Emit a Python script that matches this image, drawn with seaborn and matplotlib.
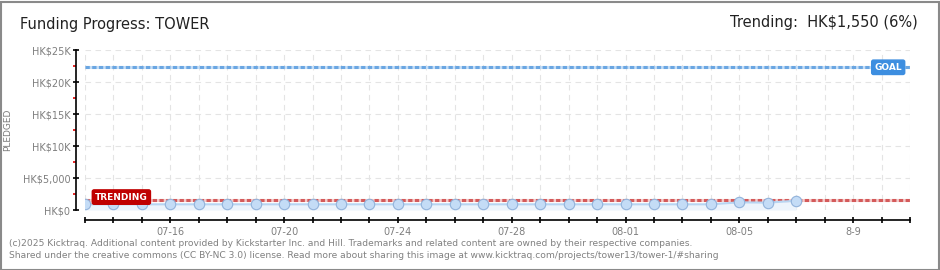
import numpy as np
import pandas as pd
import matplotlib
matplotlib.use("Agg")
import matplotlib.pyplot as plt
import matplotlib.dates as mdates
from matplotlib.ticker import FixedLocator, FixedFormatter, MultipleLocator
import matplotlib.patches as patches
import seaborn as sns

# ---------------- data ----------------
dates = pd.date_range("2025-07-13", "2025-08-07", freq="D")
pledged = [890] * 23 + [1200, 1150, 1450]
goal = 22300
trending = 1550
ytick_values = [0, 5000, 10000, 15000, 20000, 25000]
ytick_labels = ["HK$0", "HK$5,000", "HK$10K", "HK$15K", "HK$20K", "HK$25K"]
xlabel_dates = ["2025-07-16", "2025-07-20", "2025-07-24", "2025-07-28",
                "2025-08-01", "2025-08-05", "2025-08-09"]
xtick_labels = ["07-16", "07-20", "07-24", "07-28", "08-01", "08-05", "8-9"]
title = "Funding Progress: TOWER"
trend_text = "Trending:  HK$1,550 (6%)"
footer1 = ("(c)2025 Kicktraq. Additional content provided by Kickstarter Inc. and Hill. "
           "Trademarks and related content are owned by their respective companies.")
footer2 = ("Shared under the creative commons (CC BY-NC 3.0) license. Read more about "
           "sharing this image at www.kicktraq.com/projects/tower13/tower-1/#sharing")

df = pd.DataFrame({"date": dates, "pledged": pledged})

sns.set_theme(style="white")
plt.rcParams["font.family"] = ["DejaVu Sans"]

W, H = 940, 270
fig = plt.figure(figsize=(W / 100, H / 100), dpi=100)
ax = fig.add_axes([85 / W, 1 - 210 / H, 825 / W, 160 / H])

x0 = pd.Timestamp("2025-07-13")
x1 = pd.Timestamp("2025-08-11")
ax.set_xlim(x0, x1)
ax.set_ylim(0, 25000)

# grid
grid_c = "#e4e4e4"
for d in pd.date_range(x0, x1, freq="D"):
    ax.axvline(d, color=grid_c, lw=0.8, ls=(0, (5, 4)), zorder=0)
for v in ytick_values:
    ax.axhline(v, color=grid_c, lw=0.8, ls=(0, (5, 4)), zorder=0)

# fill + line + markers
ax.fill_between(df["date"], 0, df["pledged"], color="#edf4fc", zorder=1, lw=0)
sns.lineplot(data=df, x="date", y="pledged", ax=ax, color="#b8d5f2", lw=1.5,
             marker="o", markersize=7.5, markerfacecolor="#c4dcf6",
             markeredgecolor="#92b3db", markeredgewidth=0.8, zorder=4)

# goal line
ax.plot([x0, x1], [goal, goal], color="#c6def6", lw=2.2, zorder=2,
        solid_capstyle="butt")
ax.plot([x0, x1], [goal, goal], color="#6aa6e2", lw=2.2, zorder=3,
        ls=(0, (1.4, 0.8)), dash_capstyle="butt")
# trending line
ax.plot([x0, x1], [trending, trending], color="#f3cccc", lw=2.2, zorder=2,
        solid_capstyle="butt")
ax.plot([x0, x1], [trending, trending], color="#d45a5a", lw=2.2, zorder=3,
        ls=(0, (1.4, 0.8)), dash_capstyle="butt")

# labels on lines
ax.annotate("GOAL", xy=(x1, goal), xytext=(-8, 0), textcoords="offset pixels",
            ha="right", va="center", color="white", fontsize=6.5, fontweight="bold",
            bbox=dict(boxstyle="round,pad=0.3,rounding_size=0.2", fc="#3d8ee0",
                      ec="#3d8ee0"), zorder=6)
ax.annotate("TRENDING", xy=(x0, trending), xytext=(10, 3), textcoords="offset pixels",
            ha="left", va="center", color="white", fontsize=6.5, fontweight="bold",
            bbox=dict(boxstyle="round,pad=0.3,rounding_size=0.2", fc="#c00000",
                      ec="#c00000"), zorder=6)

# spines
for s in ["top", "right"]:
    ax.spines[s].set_visible(False)
ax.spines["left"].set_position(("outward", 6.5))
ax.spines["bottom"].set_position(("outward", 7.2))
ax.spines["left"].set_color("black")
ax.spines["bottom"].set_color("black")
ax.spines["left"].set_linewidth(1.2)
ax.spines["bottom"].set_linewidth(1.2)

# y ticks
ax.yaxis.set_major_locator(FixedLocator(ytick_values))
ax.yaxis.set_major_formatter(FixedFormatter(ytick_labels))
ax.yaxis.set_minor_locator(MultipleLocator(2500))
ax.tick_params(axis="y", which="major", direction="inout", length=4, width=1.2,
               color="black", labelsize=7, labelcolor="#7e7e7e", pad=2, left=True)
ax.tick_params(axis="y", which="minor", direction="out", length=2.5, width=1.2,
               color="#e00000", left=True)

# x ticks
day_ticks = mdates.date2num(pd.date_range(x0, x1, freq="D"))
lbl_ticks = mdates.date2num(pd.to_datetime(xlabel_dates))
ax.xaxis.set_minor_locator(FixedLocator(day_ticks))
ax.xaxis.set_major_locator(FixedLocator(lbl_ticks))
ax.xaxis.set_major_formatter(FixedFormatter(xtick_labels))
ax.tick_params(axis="x", which="both", direction="inout", length=4, width=1.2,
               color="black", bottom=True)
ax.tick_params(axis="x", which="major", labelsize=7, labelcolor="#7e7e7e", pad=3)
ax.set_xlabel("")
ax.set_ylabel("")

# texts
fig.text(20 / W, 1 - 24 / H, title, fontsize=10.5, color="#222222", va="center", ha="left")
fig.text(918 / W, 1 - 22 / H, trend_text, fontsize=10.5, color="#222222", va="center",
         ha="right")
fig.text(8 / W, 1 - 130 / H, "PLEDGED", rotation=90, fontsize=6.5, color="#7a7a7a",
         va="center", ha="center")
fig.text(9 / W, 1 - 243 / H, footer1, fontsize=6.6, color="#808080", va="center")
fig.text(9 / W, 1 - 256 / H, footer2, fontsize=6.6, color="#808080", va="center")

fig.patches.append(patches.Rectangle((0.5 / W, 0.5 / H), 1 - 2 / W, 1 - 2 / H,
                                     transform=fig.transFigure, fill=False,
                                     ec="#8a8a8a", lw=1.5))

fig.savefig("out.png", dpi=100, facecolor="white")
